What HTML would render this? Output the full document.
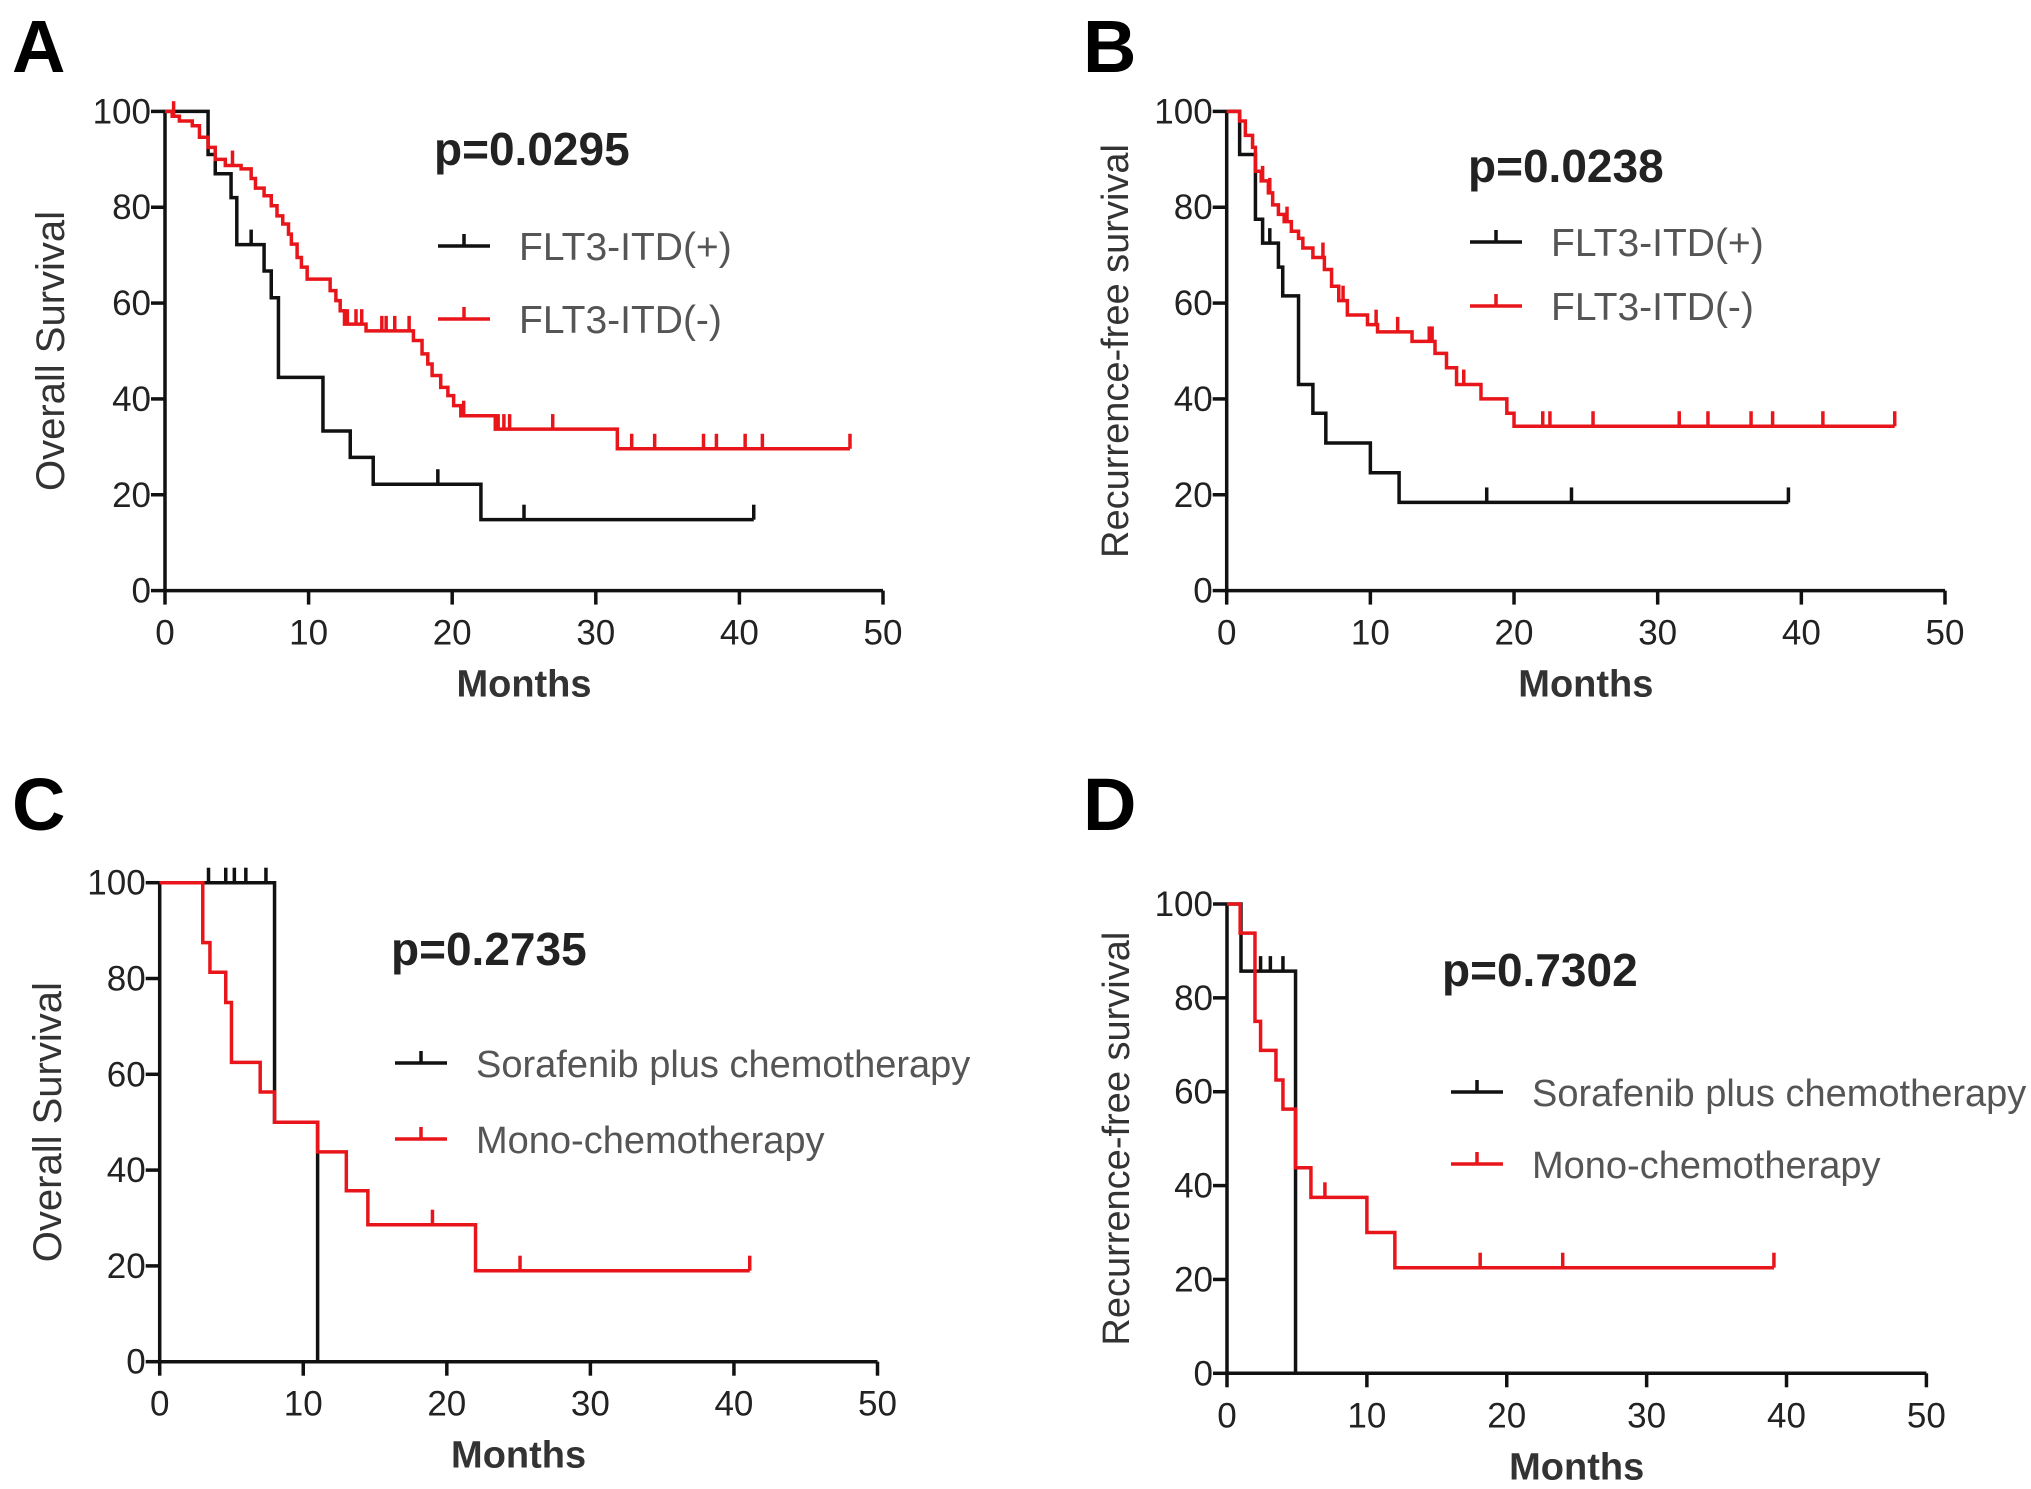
<!DOCTYPE html>
<html><head><meta charset="utf-8"><style>
html,body{margin:0;padding:0;background:#fff;}
svg{display:block;font-family:"Liberation Sans",Arial,sans-serif;}
</style></head>
<body>
<svg id="fig" width="2031" height="1489" viewBox="0 0 2031 1489" xmlns="http://www.w3.org/2000/svg"></svg>
<script>
// ---- Panel A data (Overall survival, FLT3-ITD) ----
const aPosTimes = [3.0,3.5,4.6,5.0,6.9,7.4,7.9,11.0,12.9,14.5,22.0];
const aPosSurv  = [91,87,82,72.2,66.7,61.1,44.5,33.3,27.8,22.2,14.8];
const aPosCens  = [6.0,19.0,25.0];
const aPosEnd   = 41.0;
const aNegTimes = [0.5,1.0,1.9,2.4,3.0,3.5,4.2,5.3,6.0,6.3,6.9,7.4,7.8,8.2,8.6,8.8,9.2,9.5,9.9,11.5,11.9,12.2,12.5,14.0,17.3,17.9,18.3,18.6,19.2,19.7,20.1,20.6,23.0,31.5];
const aNegSurv  = [99,98,97,94.6,92.5,90,88.7,88,86,84,82.4,80.3,78.2,76.5,74.4,72.3,69.5,67.5,65,62.6,60.5,58.4,55.6,54.2,52.2,49.4,47.3,44.9,42.4,40.7,38.6,36.5,33.7,29.6];
const aNegCens  = [0.6,4.7,12.7,13.3,13.7,15.1,15.4,16.0,17.0,20.8,23.2,23.6,24.0,27.0,32.5,34.1,37.5,38.4,40.4,41.6];
const aNegEnd   = 47.7;
// ---- Panel B data (Recurrence-free survival, FLT3-ITD) ----
const bPosTimes = [0.9,2.0,2.5,3.6,3.9,5.0,6.0,6.9,10.0,12.0];
const bPosSurv  = [91,77.5,72.5,67.5,61.5,43,37,30.8,24.6,18.4];
const bPosCens  = [3.0,18.1,24.0];
const bPosEnd   = 39.1;
const bNegTimes = [0.9,1.3,1.8,2.0,2.4,2.9,3.2,3.6,4.0,4.5,5.0,5.3,6.0,6.8,7.3,7.8,8.4,9.8,10.5,12.9,14.5,15.3,16.0,17.7,19.5,20.0];
const bNegSurv  = [98,95,92.5,87.5,85.5,83,80.5,78.5,77,75,73.5,71.5,69.5,67,63.5,60.5,57.5,55.5,54,52,49.5,46.5,43,40,37,34.3];
const bNegCens  = [2.5,3.0,4.2,6.7,8.1,10.4,11.9,14.1,14.3,16.5,22.0,22.5,25.5,31.5,33.5,36.5,38.0,41.5];
const bNegEnd   = 46.5;
// ---- Panel C data (Overall survival, treatment) ----
const cSorTimes = [8.0,11.0];
const cSorSurv  = [50,0];
const cSorCens  = [3.4,4.6,5.2,6.0,7.4];
const cSorEnd   = 11.0;
const cMonoTimes = [3.0,3.5,4.6,5.0,7.0,8.0,11.0,13.0,14.5,22.0];
const cMonoSurv  = [87.5,81.3,75,62.5,56.3,50,43.8,35.7,28.6,19];
const cMonoCens  = [19.0,25.1];
const cMonoEnd   = 41.1;
// ---- Panel D data (Recurrence-free survival, treatment) ----
const dSorTimes = [1.0,4.9];
const dSorSurv  = [85.7,0];
const dSorCens  = [2.4,3.1,4.0];
const dSorEnd   = 4.9;
const dMonoTimes = [0.94,2.0,2.4,3.5,4.0,4.9,6.0,10.0,12.0];
const dMonoSurv  = [93.8,75,68.8,62.5,56.3,43.8,37.5,30,22.5];
const dMonoCens  = [7.0,18.1,24.0];
const dMonoEnd   = 39.1;
// ---- shared axis ticks ----
const xTicks = [0,10,20,30,40,50];
const yTicks = [0,20,40,60,80,100];

const NS = "http://www.w3.org/2000/svg";
const svg = document.getElementById('fig');
function mk(tag, attrs, parent, text){
  const e = document.createElementNS(NS, tag);
  for (const k in attrs) e.setAttribute(k, attrs[k]);
  if (text !== undefined) e.textContent = text;
  (parent || svg).appendChild(e);
  return e;
}
function survAt(times, surv, t){
  let s = 100;
  for (let i=0;i<times.length;i++){ if (times[i] <= t + 1e-9) s = surv[i]; }
  return s;
}
function drawPanel(p){
  const g = mk('g', {});
  
  
  const sx = t => p.x0 + (p.x50 - p.x0) * t / 50;
  const sy = v => p.y0 + (p.y100 - p.y0) * v / 100;
  const L = mk('text', {x:p.lx, y:p.ly, 'font-size':74, 'font-weight':'bold', fill:'#000'}, g, p.letter);
  
  
  const ax = mk('g', {stroke:'#111', 'stroke-width':3.5, fill:'none'}, g);
  
  
  mk('line', {x1:sx(0), y1:sy(0)+1.5, x2:sx(0), y2:sy(100)}, ax);
  mk('line', {x1:sx(0)-1.5, y1:sy(0), x2:sx(50), y2:sy(0)}, ax);
  xTicks.forEach(t => {
    mk('line', {x1:sx(t), y1:sy(0), x2:sx(t), y2:sy(0)+14}, ax);
    const tl = mk('text', {x:sx(t), y:sy(0)+54, 'font-size':35, 'text-anchor':'middle', fill:'#222'}, g, String(t));
    
    
  });
  yTicks.forEach(v => {
    mk('line', {x1:sx(0)-14, y1:sy(v), x2:sx(0), y2:sy(v)}, ax);
    const tl = mk('text', {x:sx(0)-14, y:sy(v)+12, 'font-size':35, 'text-anchor':'end', fill:'#222'}, g, String(v));
    
    
  });
  const xt = mk('text', {x:(sx(0)+sx(50))/2, y:p.y0+106, 'font-size':38, 'font-weight':'bold', 'text-anchor':'middle', fill:'#333'}, g, 'Months');
  
  
  const yt = mk('text', {x:0, y:0, 'font-size':p.ytsize, 'text-anchor':'middle', fill:'#333', transform:'translate('+(p.ytx)+','+((sy(0)+sy(100))/2)+') rotate(-90)'}, g, p.ytitle);
  
  
  p.series.forEach(s => {
    const sg = mk('g', {stroke:s.color, 'stroke-width':3.5, fill:'none'}, g);
    
    
    let d = 'M' + sx(0) + ',' + sy(100);
    for (let i=0;i<s.times.length;i++){
      d += ' H' + sx(s.times[i]) + ' V' + sy(s.surv[i]);
    }
    d += ' H' + sx(s.end);
    mk('path', {d:d}, sg);
    s.cens.concat([s.end]).forEach(c => {
      const v = survAt(s.times, s.surv, c);
      if (v <= 0) return;
      const cm = mk('line', {x1:sx(c), y1:sy(v), x2:sx(c), y2:sy(v)-15}, sg);
      
      
    });
    const lg = mk('g', {}, g);
    
    
    mk('line', {x1:p.legX, y1:s.legY, x2:p.legX+52, y2:s.legY, stroke:s.color, 'stroke-width':3.5}, lg);
    mk('line', {x1:p.legX+26, y1:s.legY, x2:p.legX+26, y2:s.legY-12, stroke:s.color, 'stroke-width':3.5}, lg);
    mk('text', {x:p.legX+81, y:s.legY+14, 'font-size':p.legSize, fill:'#555'}, lg, s.label);
  });
  const pv = mk('text', {x:p.px, y:p.py, 'font-size':46, 'font-weight':'bold', fill:'#222'}, g, p.pval);
  
  
}
drawPanel({name:'panel-a', letter:'A', lx:12, ly:72, x0:165, x50:883, y0:590.6, y100:111.4, ytx:64, ytsize:40,
  ytitle:'Overall Survival', pval:'p=0.0295', px:434, py:165, legX:438, legSize:39,
  series:[
    {key:'flt3-itd-pos', color:'#111', times:aPosTimes, surv:aPosSurv, cens:aPosCens, end:aPosEnd, label:'FLT3-ITD(+)', legY:246},
    {key:'flt3-itd-neg', color:'#e8161b', times:aNegTimes, surv:aNegSurv, cens:aNegCens, end:aNegEnd, label:'FLT3-ITD(-)', legY:319}
  ]});
drawPanel({name:'panel-b', letter:'B', lx:1083, ly:72, x0:1226.7, x50:1945, y0:590.6, y100:111.4, ytx:1128, ytsize:38,
  ytitle:'Recurrence-free survival', pval:'p=0.0238', px:1468, py:182, legX:1470, legSize:39,
  series:[
    {key:'flt3-itd-pos', color:'#111', times:bPosTimes, surv:bPosSurv, cens:bPosCens, end:bPosEnd, label:'FLT3-ITD(+)', legY:242},
    {key:'flt3-itd-neg', color:'#e8161b', times:bNegTimes, surv:bNegSurv, cens:bNegCens, end:bNegEnd, label:'FLT3-ITD(-)', legY:306}
  ]});
drawPanel({name:'panel-c', letter:'C', lx:12, ly:830, x0:159.7, x50:877.5, y0:1361.7, y100:882.7, ytx:61, ytsize:40,
  ytitle:'Overall Survival', pval:'p=0.2735', px:391, py:965, legX:395, legSize:38,
  series:[
    {key:'sorafenib', color:'#111', times:cSorTimes, surv:cSorSurv, cens:cSorCens, end:cSorEnd, label:'Sorafenib plus chemotherapy', legY:1063},
    {key:'mono-chemo', color:'#e8161b', times:cMonoTimes, surv:cMonoSurv, cens:cMonoCens, end:cMonoEnd, label:'Mono-chemotherapy', legY:1139}
  ]});
drawPanel({name:'panel-d', letter:'D', lx:1083, ly:830, x0:1227, x50:1926.4, y0:1373.3, y100:904, ytx:1129, ytsize:38,
  ytitle:'Recurrence-free survival', pval:'p=0.7302', px:1442, py:986, legX:1451, legSize:38,
  series:[
    {key:'sorafenib', color:'#111', times:dSorTimes, surv:dSorSurv, cens:dSorCens, end:dSorEnd, label:'Sorafenib plus chemotherapy', legY:1092},
    {key:'mono-chemo', color:'#e8161b', times:dMonoTimes, surv:dMonoSurv, cens:dMonoCens, end:dMonoEnd, label:'Mono-chemotherapy', legY:1164}
  ]});
</script>
</body></html>
